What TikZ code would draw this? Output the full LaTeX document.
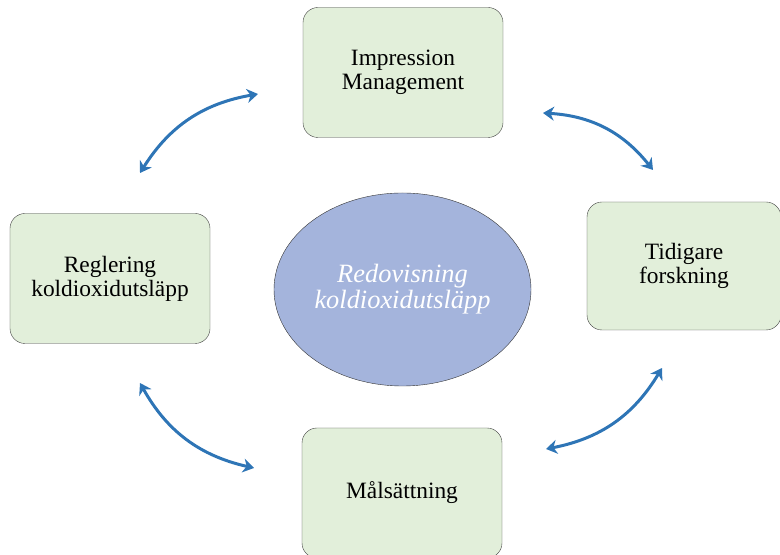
\documentclass[tikz,border=0pt]{standalone}
\usepackage{fontspec}
\setmainfont{Liberation Serif}
\usetikzlibrary{arrows.meta,shapes.geometric}

\definecolor{boxgreen}{RGB}{226,239,218}
\definecolor{ovalblue}{RGB}{164,180,220}
\definecolor{linkblue}{RGB}{46,117,182}

\tikzstyle{topic} = [rectangle, rounded corners=15bp, draw=black!75, fill=boxgreen, align=center, minimum width=200bp, minimum height=130bp, font=\fontsize{23.5}{24}\selectfont]
\tikzstyle{core} = [ellipse, draw=black!80, fill=ovalblue, text=white, align=center, minimum width=257bp, minimum height=193bp, inner sep=0pt, font=\fontsize{26.5}{26}\selectfont\itshape]
\tikzstyle{link} = [draw=linkblue, line width=3bp, {Stealth[length=11bp,width=14bp,inset=3.5bp]}-{Stealth[length=11bp,width=14bp,inset=3.5bp]}, bend left=24]

\begin{document}
\begin{tikzpicture}[x=1bp,y=1bp]
    \useasboundingbox (0,0) rectangle (780,555);

    \node (core) [core] at (402.5,265.5) {Redovisning\\koldioxidutsläpp};

    \node (impr) [topic] at (403,482.5) {Impression\\Management};
    \node (regl) [topic] at (110,276.5) {Reglering\\koldioxidutsläpp};
    \node (tidi) [topic, minimum width=194bp, minimum height=128bp] at (684,289) {Tidigare\\forskning};
    \node (mals) [topic] at (402,62) {Målsättning};

    % free ends of the curved links
    \coordinate (regl-n) at (140,382);
    \coordinate (impr-w) at (258,461);
    \coordinate (impr-e) at (543,442);
    \coordinate (tidi-n) at (653,385);
    \coordinate (tidi-s) at (662,187);
    \coordinate (mals-e) at (546,106);
    \coordinate (mals-w) at (254,87);
    \coordinate (regl-s) at (140,172);

    \draw [link] (regl-n) to (impr-w);
    \draw [link] (impr-e) to (tidi-n);
    \draw [link] (tidi-s) to (mals-e);
    \draw [link] (mals-w) to (regl-s);
\end{tikzpicture}
\end{document}
